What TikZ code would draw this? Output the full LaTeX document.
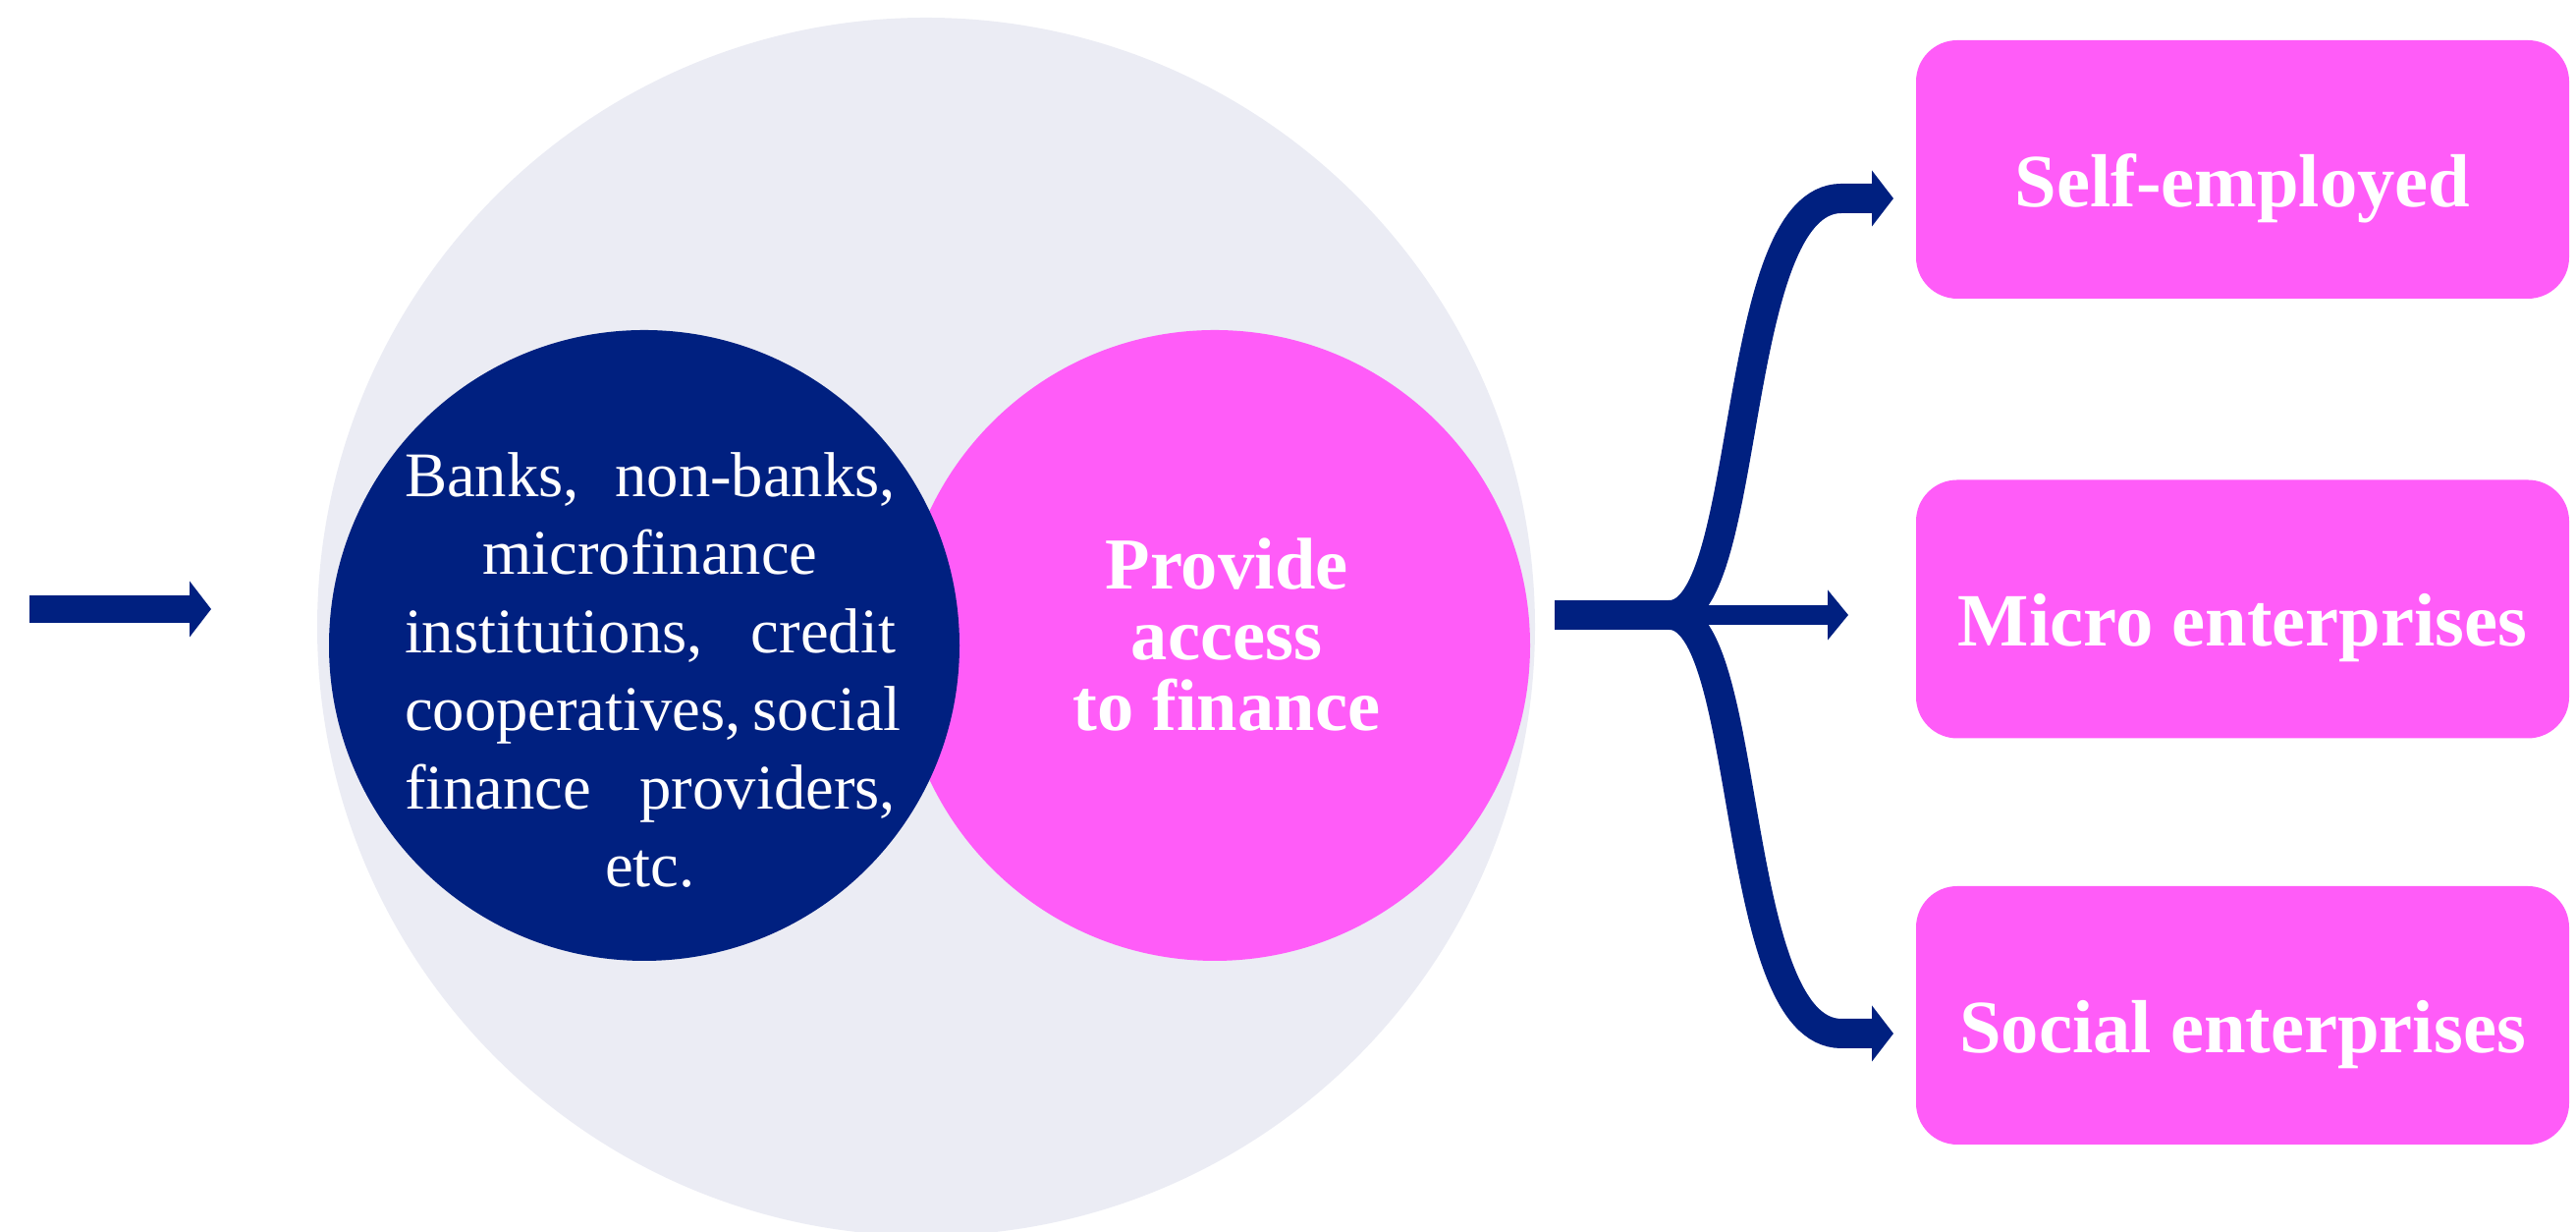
\documentclass[tikz,border=0pt]{standalone}
\usepackage{fontspec}
\setmainfont{Liberation Serif}
\usetikzlibrary{arrows.meta,calc}
\definecolor{finnavy}{HTML}{002080}
\definecolor{finpink}{HTML}{FF5CF8}
\definecolor{finhaze}{HTML}{EBECF4}

\begin{document}
\begin{tikzpicture}[
    disc/.style={circle, inner sep=0pt, minimum size=6.42cm},
    target/.style={rectangle, rounded corners=0.42cm, fill=finpink, minimum width=6.65cm, minimum height=2.63cm, text height=0.9cm, text depth=0.14cm, text=white, font=\bfseries\fontsize{21.8}{26}\selectfont},
    arrow/.style={-{Triangle[length=0.22cm, width=0.56cm]}, line width=0.3cm, draw=finnavy},
    thinarrow/.style={-{Triangle[length=0.21cm, width=0.5cm]}, line width=0.2cm, draw=finnavy}
  ]
    \useasboundingbox (0,0) rectangle (26.23,12.54);

    % circles
    \node[circle, inner sep=0pt, minimum size=12.4cm, fill=finhaze] (outer) at (9.43,6.16) {};
    \node[disc, fill=finpink] (access) at (12.37,5.97) {};
    \node[disc, fill=finnavy] (lenders) at (6.56,5.97) {};
    \node[text=white, align=center, font=\fontsize{18.4}{22.6}\selectfont] (lenderstext) at (6.62,5.72)
      {\makebox[5cm][s]{Banks, non-banks,}\\microfinance\\\makebox[5cm][s]{institutions, credit}\\
       \makebox[5cm][s]{cooperatives, social}\\\makebox[5cm][s]{finance providers,}\\etc.};
    \node[text=white, align=center, font=\bfseries\fontsize{21.2}{20.5}\selectfont] (accesstext) at (12.49,6.08)
      {Provide\\access\\to finance};

    % target groups
    \node[target] (selfemp) at (22.835,10.815) {Self-employed};
    \node[target] (micro) at (22.835,6.34) {Micro enterprises};
    \node[target] (social) at (22.835,2.205) {Social enterprises};

    % incoming arrow
    \coordinate (infrom) at (0.30,6.34);
    \coordinate (into) at (2.15,6.34);
    \draw[arrow, line width=0.28cm] (infrom) -- (into);

    % fork
    \coordinate (stem) at (15.83,6.28);
    \coordinate (fork) at (17.00,6.28);
    \coordinate (topbend) at (18.75,10.52);
    \coordinate (toptip) at (19.28,10.52);
    \coordinate (midtip) at (18.82,6.28);
    \coordinate (botbend) at (18.75,2.02);
    \coordinate (bottip) at (19.28,2.02);
    \draw[line width=0.3cm, finnavy] (stem) -- (fork);
    \draw[arrow] (fork) .. controls +(0.85,0) and +(-1.15,0) .. (topbend) -- (toptip);
    \draw[arrow] (fork) .. controls +(0.85,0) and +(-1.15,0) .. (botbend) -- (bottip);
    \draw[thinarrow] (fork) -- (midtip);
\end{tikzpicture}
\end{document}
